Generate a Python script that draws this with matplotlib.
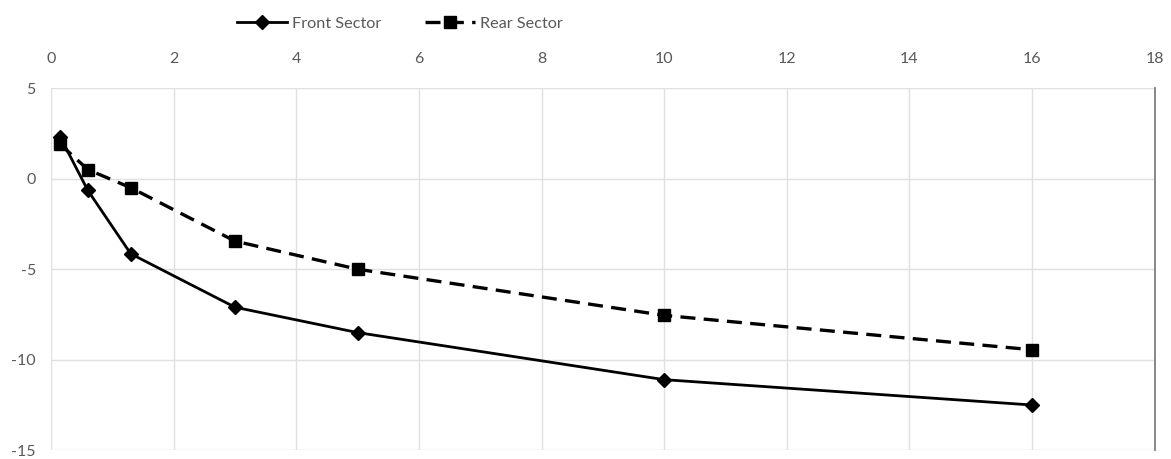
import matplotlib
matplotlib.use("Agg")
import matplotlib.pyplot as plt

# values
x_vals = [0.15, 0.6, 1.3, 3, 5, 10, 16]
front = [2.3, -0.65, -4.15, -7.1, -8.5, -11.1, -12.5]
rear = [1.9, 0.5, -0.5, -3.45, -5.0, -7.55, -9.45]

x_ticks = [0, 2, 4, 6, 8, 10, 12, 14, 16, 18]
y_ticks = [5, 0, -5, -10, -15]

plt.rcParams['font.family'] = ['Lato', 'DejaVu Sans']
plt.rcParams['axes.unicode_minus'] = False

fig = plt.figure(figsize=(11.71, 4.59), dpi=100)
ax = fig.add_axes([0.0436, 0.019, 0.9425, 0.789])

ax.plot(x_vals, front, color='black', lw=2, marker='D', ms=7, label='Front Sector', zorder=3)
ax.plot(x_vals, rear, color='black', lw=2.4, ls=(0, (4.5, 2.5)), marker='s', ms=8,
        label='Rear Sector', zorder=3)

ax.set_xlim(0, 18)
ax.set_ylim(-15, 5)
ax.set_xticks(x_ticks)
ax.set_yticks(y_ticks)
ax.xaxis.tick_top()
ax.tick_params(length=0, labelsize=11.5, labelcolor='#595959')
ax.tick_params(axis='x', pad=16)
ax.tick_params(axis='y', pad=11)
ax.grid(True, color='#e0e0e0', lw=1)
ax.set_axisbelow(True)

for s in ['top', 'bottom', 'left']:
    ax.spines[s].set_visible(False)
ax.spines['right'].set_color('#7f7f7f')
ax.spines['right'].set_linewidth(1.3)

leg = ax.legend(loc='center', bbox_to_anchor=(0.316, 1.178), ncol=2, frameon=False,
                fontsize=11.7, handlelength=3.1, columnspacing=2.7, handletextpad=0.3)
for t in leg.get_texts():
    t.set_color('#595959')

fig.savefig('out.png', dpi=100, facecolor='white')
